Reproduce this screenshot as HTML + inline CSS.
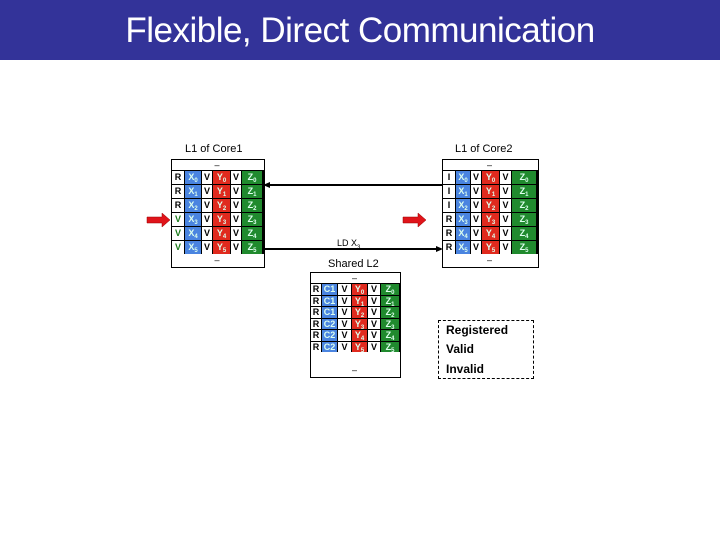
<!DOCTYPE html>
<html><head><meta charset="utf-8"><style>
body{margin:0;width:720px;height:540px;background:#fff;position:relative;overflow:hidden;font-family:"Liberation Sans",sans-serif}
.hdr{position:absolute;left:0;top:0;width:720px;height:60px;background:#333399;color:#fff;font-size:35px;text-align:center;line-height:62px;letter-spacing:-0.5px}
.a{position:absolute}
.box{position:absolute;border:1px solid #000;background:#fff}
.c{position:absolute;font-size:9px;text-align:center;box-sizing:border-box;overflow:hidden}
.c sub{font-size:6px;vertical-align:0;position:relative;top:2px}
.lbl{position:absolute;font-size:11px;color:#000}
</style></head><body>
<div class="hdr">Flexible, Direct Communication</div>
<div class="lbl" style="left:185px;top:143px">L1 of Core1</div>
<div class="lbl" style="left:455px;top:143px">L1 of Core2</div>
<div class="lbl" style="left:328px;top:258px">Shared L2</div>
<div class="lbl" style="left:337px;top:238px;font-size:9px">LD X<sub style="font-size:6px">3</sub></div>
<div id="g"></div>
<div class="a" style="left:438px;top:320px;width:94px;height:57px;border:1px dashed #000"></div>
<div class="lbl" style="left:446px;top:323px;font-size:12px;font-weight:bold">Registered</div>
<div class="lbl" style="left:446px;top:342px;font-size:12px;font-weight:bold">Valid</div>
<div class="lbl" style="left:446px;top:362px;font-size:12px;font-weight:bold">Invalid</div>
<svg class="a" style="left:0;top:0" width="720" height="540">
<line x1="443" y1="185" x2="268" y2="185" stroke="#000" stroke-width="2"/>
<polygon points="263,185 270,182 270,188" fill="#000"/>
<line x1="264" y1="249" x2="438" y2="249" stroke="#000" stroke-width="2"/>
<polygon points="443,249 436,246 436,252" fill="#000"/>
<polygon points="147,217 162,217 162,213 170,220 162,227 162,223 147,223" fill="#e0141a" stroke="#900" stroke-width="0.5"/>
<polygon points="403,217 418,217 418,213 426,220 418,227 418,223 403,223" fill="#e0141a" stroke="#900" stroke-width="0.5"/>
</svg>
<script>
var B='#4a84e0',R='#e02a1e',G='#208a2e';
var out='';
function block(bx,btop,bbot,bw,cols,y0,rh,rows,first){
 out+='<div class="box" style="left:'+bx+'px;top:'+btop+'px;width:'+bw+'px;height:'+(bbot-btop)+'px"></div>';
 out+='<div class="c" style="left:'+bx+'px;top:'+(btop+1)+'px;width:'+bw+'px">–</div>';
 out+='<div class="c" style="left:'+bx+'px;top:'+(bbot-11)+'px;width:'+bw+'px">–</div>';
 out+='<div class="a" style="left:'+bx+'px;top:'+y0+'px;width:'+(bw+1)+'px;height:'+(rh*rows)+'px;background:#000"></div>';
 for(var i=0;i<rows;i++){
  var y=y0+i*rh;
  for(var j=0;j<cols.length;j++){
   var c=cols[j];var txt=c[3](i);var bg=c[2];var col=(bg=='#fff')?'#000':'#dfe';
   if(j==0&&first) col=first(i);
   out+='<div class="c" style="left:'+c[0]+'px;top:'+(y+1)+'px;width:'+(c[1]-c[0]-1)+'px;height:'+(rh-1)+'px;line-height:'+(rh-1)+'px;background:'+bg+';color:'+col+';font-weight:bold">'+txt+'</div>';
  }
 }
}
function s(l){return function(i){return l+'<sub>'+i+'</sub>';}}
function k(t){return function(){return t;}}
block(171,159,266,92,[[172,185,'#fff',function(i){return i<3?'R':'V'}],[185,202,B,s('X')],[202,213,'#fff',k('V')],[213,231,R,s('Y')],[231,242,'#fff',k('V')],[242,263,G,s('Z')]],170,14,6,function(i){return i<3?'#000':'#1a7a1a'});
block(442,159,266,95,[[443,456,'#fff',function(i){return i<3?'I':'R'}],[456,471,B,s('X')],[471,482,'#fff',k('V')],[482,500,R,s('Y')],[500,512,'#fff',k('V')],[512,537,G,s('Z')]],170,14,6,null);
block(310,272,376,89,[[311,322,'#fff',k('R')],[322,338,B,function(i){return i<3?'C1':'C2'}],[338,352,'#fff',k('V')],[352,368,R,s('Y')],[368,381,'#fff',k('V')],[381,400,G,s('Z')]],283,11.5,6,null);
document.getElementById('g').innerHTML=out;
</script>
</body></html>
